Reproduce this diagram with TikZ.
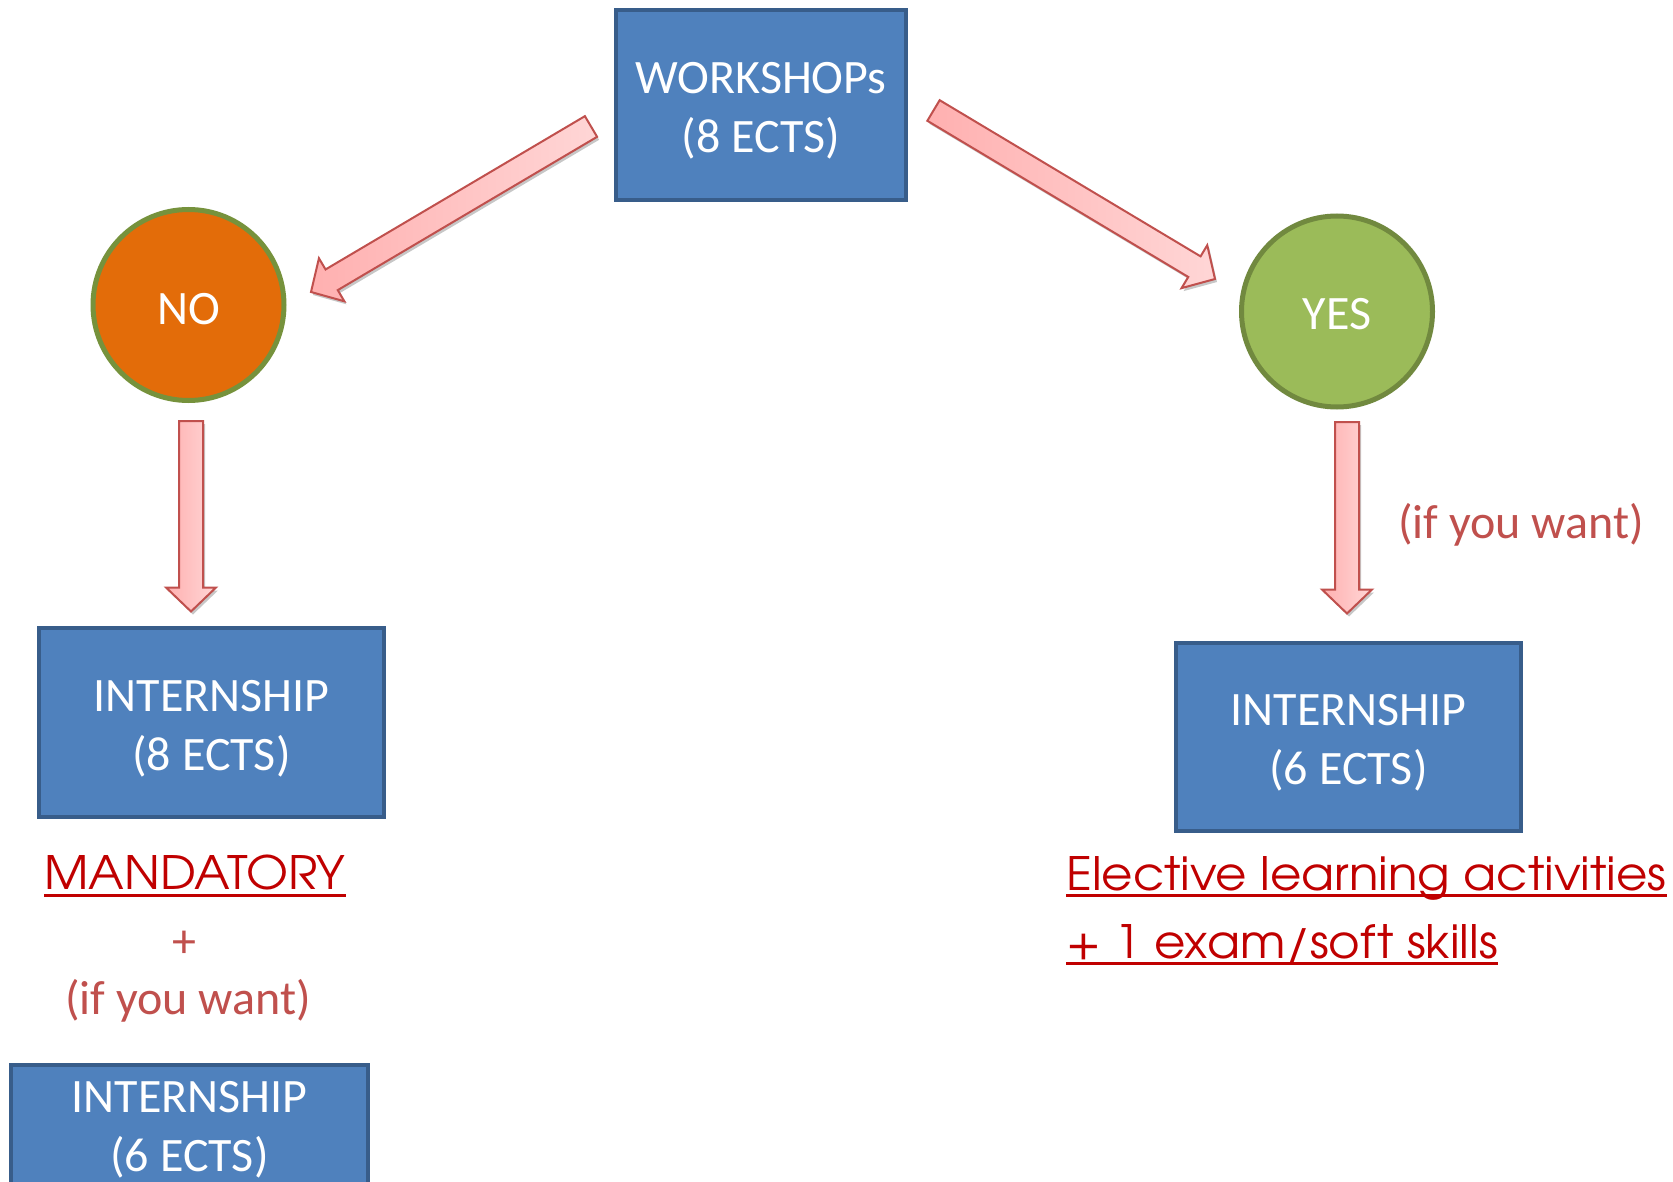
\documentclass[tikz,border=0pt]{standalone}
\usepackage{fontspec}
\setmainfont{Carlito}
\newfontfamily\gothic[FakeStretch=1.05]{TeX Gyre Adventor}
\usetikzlibrary{calc,shadows}
\definecolor{boxfill}{HTML}{4F81BD}
\definecolor{boxline}{HTML}{385D8A}
\definecolor{nofill}{HTML}{E36C09}
\definecolor{noline}{HTML}{76923C}
\definecolor{yesfill}{HTML}{9BBB59}
\definecolor{yesline}{HTML}{71893F}
\definecolor{arrline}{HTML}{C0504D}
\definecolor{pinkA}{HTML}{FFB0B0}
\definecolor{pinkB}{HTML}{FFD6D6}
\definecolor{softred}{HTML}{C0504D}
\definecolor{darkred}{HTML}{C00000}
\tikzset{
  bluebox/.style={draw=boxline, line width=4pt, fill=boxfill, inner sep=0pt},
  boxtext/.style={text=white, align=center, inner sep=0pt, font=\fontsize{48}{59}\selectfont},
  nocirc/.style={circle, draw=noline, line width=5pt, fill=nofill,
    minimum size=191pt, inner sep=0pt},
  yescirc/.style={circle, draw=yesline, line width=5pt, fill=yesfill,
    minimum size=191pt, inner sep=0pt},
  barrow/.style={draw=arrline, line width=2pt, line join=miter,
    left color=pinkA, right color=pinkB,
    drop shadow={shadow xshift=2pt, shadow yshift=-3pt, opacity=0.22, fill=black}},
  softtext/.style={text=softred, inner sep=0pt, font=\fontsize{48}{59}\selectfont},
  gtext/.style={text=darkred, inner sep=0pt, font=\gothic\fontsize{46}{56}\selectfont},
  uline/.style={draw=darkred, line width=3pt}
}
\newcommand\blockarr[2]{%
  \coordinate (hb) at ($(#2)!24pt!(#1)$);
  \draw[barrow] ($(#1)!12pt!90:(#2)$) -- ($(hb)!12pt!-90:(#1)$) -- ($(hb)!25pt!-90:(#1)$)
    -- (#2) -- ($(hb)!25pt!90:(#1)$) -- ($(hb)!12pt!90:(#1)$) -- ($(#1)!12pt!-90:(#2)$) -- cycle;}
\begin{document}
\begin{tikzpicture}[x=1pt,y=-1pt]
\useasboundingbox (0,0) rectangle (1673,1182);
\clip (0,0) rectangle (1673,1182);
\fill[white] (0,0) rectangle (1673,1182);

% boxes and circles
\node[bluebox, minimum width=290pt, minimum height=190pt] (ws) at (761,105) {};
\node[boxtext] (wst) at ([yshift=-6pt]ws.center) {WORKSHOPs\\(8 ECTS)};
\node[nocirc] (no) at (188.5,305) {};
\node[boxtext] (not) at ([yshift=-4pt]no.center) {NO};
\node[yescirc] (yes) at (1337,311.5) {};
\node[boxtext] (yest) at ([yshift=-3pt]yes.center) {YES};
\node[bluebox, minimum width=345pt, minimum height=189pt] (intL) at (211.5,722.5) {};
\node[boxtext] (intLt) at ([yshift=-6pt]intL.center) {INTERNSHIP\\(8 ECTS)};
\node[bluebox, minimum width=345pt, minimum height=188pt] (intR) at (1348.5,737) {};
\node[boxtext] (intRt) at ([yshift=-6pt]intR.center) {INTERNSHIP\\(6 ECTS)};
\node[bluebox, minimum width=357pt, minimum height=124pt] (intB) at (189.5,1127) {};
\node[boxtext] (intBt) at ([yshift=-3pt]intB.center) {INTERNSHIP\\(6 ECTS)};

% arrows
\coordinate (a1s) at (591,126.5);  \coordinate (a1e) at (311,292);
\coordinate (a2s) at (933.5,110.5); \coordinate (a2e) at (1215,279);
\coordinate (a3s) at (191,421);    \coordinate (a3e) at (191,611.5);
\coordinate (a4s) at (1347,422);   \coordinate (a4e) at (1347,613.5);
\blockarr{a1s}{a1e}
\blockarr{a2s}{a2e}
\blockarr{a3s}{a3e}
\blockarr{a4s}{a4e}

% texts
\node[softtext] (ifR) at (1521,525) {(if you want)};
\node[gtext, anchor=base west] (mand) at (44,889) {MANDATORY};
\draw[uline] ([yshift=-6pt]mand.base west) -- ([yshift=-6pt]mand.base east);
\node[softtext] (plus) at (184,944) {+};
\node[softtext] (ifL) at (188,1001) {(if you want)};
\node[gtext, anchor=base west] (el1) at (1066,890) {Elective learning activities};
\draw[uline] ([yshift=-5pt]el1.base west) -- ([yshift=-5pt]el1.base east);
\node[gtext, anchor=base west] (el2) at (1066,958) {+ 1 exam/soft skills};
\draw[uline] ([yshift=-5pt]el2.base west) -- ([yshift=-5pt]el2.base east);
\end{tikzpicture}
\end{document}
